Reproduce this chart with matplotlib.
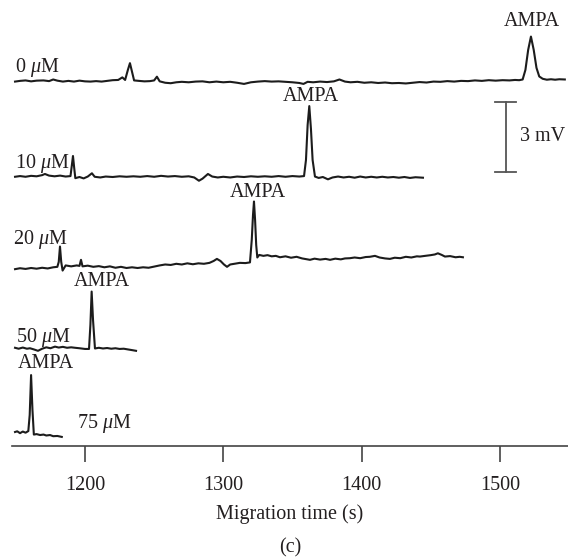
import matplotlib
matplotlib.use("Agg")
import matplotlib.pyplot as plt

plt.rcParams['font.family'] = ['Liberation Serif', 'DejaVu Serif']
plt.rcParams['mathtext.fontset'] = 'custom'
plt.rcParams['mathtext.rm'] = 'Liberation Serif'
plt.rcParams['mathtext.it'] = 'Liberation Serif:italic'

# ---------------- data (time in s, signal in mV relative to trace baseline) ----
t_0uM = [1149.4, 1153, 1157, 1161, 1165, 1170, 1174, 1177, 1180, 1184, 1188, 1192, 1196, 1200,
         1204, 1208, 1212, 1216, 1220, 1224, 1227, 1229, 1231, 1232.5, 1234, 1235.5, 1239, 1243,
         1247, 1250, 1252, 1254, 1258, 1262, 1266, 1270, 1275, 1280, 1285, 1290, 1295, 1300,
         1305, 1310, 1315, 1320, 1325, 1330, 1335, 1340, 1345, 1350, 1355, 1358, 1361, 1365,
         1370, 1375, 1380, 1384, 1388, 1392, 1397, 1402, 1407, 1412, 1417, 1422, 1427, 1432,
         1437, 1442, 1447, 1452, 1457, 1462, 1467, 1472, 1477, 1482, 1487, 1492, 1497, 1502,
         1507, 1511, 1514, 1516.5, 1518.5, 1520.5, 1522.5, 1524.5, 1526.5, 1528.5, 1531, 1534,
         1537, 1540, 1543, 1547]
s_0uM = [-0.03, 0, 0.02, -0.02, 0.01, 0.02, -0.01, 0.06, 0.01, -0.03, 0, -0.03, 0.01, -0.02,
         -0.03, -0.01, -0.03, 0, 0.03, 0.04, 0.15, 0.04, 0.47, 0.76, 0.39, 0.02, 0, -0.02,
         -0.01, 0.02, 0.18, -0.02, -0.08, -0.1, -0.06, -0.04, -0.06, -0.03, -0.02, -0.06, -0.03, -0.06,
         -0.04, -0.08, -0.13, -0.06, -0.03, -0.01, -0.03, -0.02, -0.04, -0.06, -0.09, -0.13, -0.04, -0.06,
         -0.03, -0.05, -0.02, 0.06, -0.03, -0.06, -0.04, -0.08, -0.06, -0.09, -0.07, -0.1, -0.09, -0.11,
         -0.08, -0.05, -0.07, -0.03, -0.04, -0.01, -0.03, 0, -0.01, 0.02, 0, 0.03, 0.01, 0.03,
         0.02, 0.04, 0.03, 0.06, 0.47, 1.33, 1.9, 1.33, 0.56, 0.19, 0.09, 0.05,
         0.07, 0.05, 0.07, 0.06]

t_10uM = [1149.4, 1153, 1157, 1161, 1165, 1169, 1171, 1174, 1178, 1182, 1186, 1189.5, 1190.5,
          1191.3, 1192.2, 1193, 1196, 1199, 1202, 1205, 1207, 1211, 1215, 1220, 1225, 1230, 1235,
          1240, 1245, 1250, 1255, 1260, 1265, 1270, 1275, 1279, 1282.4, 1285, 1288.9, 1292, 1296,
          1300, 1305, 1310, 1315, 1320, 1325, 1330, 1335, 1340, 1345, 1350, 1355, 1358.4, 1359.8,
          1361, 1362.2, 1363.4, 1364.6, 1366.3, 1369, 1372, 1375.7, 1379, 1383, 1387, 1391, 1395,
          1399, 1403, 1407, 1411, 1415, 1419, 1423, 1427, 1431, 1435, 1439, 1444.4]
s_10uM = [-0.03, 0, -0.03, 0.01, -0.01, 0.04, 0.09, 0.02, -0.01, 0.02, -0.02, 0, 0.47,
          0.86, 0.34, -0.09, -0.04, -0.1, -0.02, 0.12, -0.03, -0.06, -0.02, -0.04, -0.01, -0.03, -0.01,
          -0.03, 0, -0.03, 0.01, -0.02, 0, -0.03, -0.01, -0.06, -0.2, -0.11, 0.09, -0.02, -0.06,
          -0.03, -0.06, -0.02, -0.04, -0.01, -0.03, -0.01, -0.03, 0, -0.03, 0, -0.02, 0, 0.69,
          2.19, 3.0, 2.02, 0.69, -0.02, -0.08, -0.04, -0.14, -0.06, -0.02, -0.06, -0.03, -0.07,
          -0.02, -0.06, -0.03, -0.06, -0.03, -0.06, -0.04, -0.07, -0.04, -0.08, -0.05, -0.07]

t_20uM = [1149.4, 1153, 1157, 1161, 1165, 1169, 1173, 1177, 1180, 1181, 1181.9, 1182.8, 1183.8,
          1186, 1190, 1194, 1196, 1197.1, 1198.2, 1202, 1206, 1210, 1214, 1218, 1222, 1226, 1230,
          1234, 1238, 1242, 1246, 1250, 1254, 1258, 1262, 1266, 1270, 1274, 1278, 1282, 1286, 1290,
          1293, 1295.4, 1298, 1300.5, 1302.7, 1305, 1308, 1312, 1316, 1319.3, 1320.6, 1321.5, 1322.2,
          1323, 1323.8, 1324.6, 1326, 1329, 1332, 1335, 1338, 1341, 1345, 1349, 1353, 1357, 1362.7,
          1366, 1370, 1374, 1377.2, 1381, 1385, 1388, 1391.6, 1395, 1399, 1403, 1406, 1409.7, 1413,
          1417, 1420.5, 1424, 1428, 1432, 1436, 1440, 1442.2, 1446, 1450, 1453, 1455.2, 1458, 1460.3,
          1464, 1468, 1471, 1473.3]
s_20uM = [-0.14, -0.1, -0.13, -0.09, -0.12, -0.08, -0.11, -0.06, -0.04, 0.17, 0.83, 0.17, -0.2,
          0.02, -0.02, 0.02, 0, 0.26, -0.02, 0.01, -0.04, -0.01, -0.06, -0.02, -0.08, -0.04, -0.09,
          -0.06, -0.09, -0.06, -0.08, -0.03, 0.02, 0.06, 0.04, 0.09, 0.06, 0.11, 0.07, 0.11, 0.09, 0.13,
          0.21, 0.3, 0.21, 0.06, -0.04, 0.06, 0.09, 0.13, 0.12, 0.15, 1.12, 2.19, 2.76,
          1.97, 0.9, 0.36, 0.47, 0.43, 0.46, 0.41, 0.43, 0.37, 0.41, 0.35, 0.39, 0.32, 0.26,
          0.31, 0.27, 0.3, 0.26, 0.31, 0.28, 0.32, 0.33, 0.36, 0.33, 0.38, 0.39, 0.43, 0.36,
          0.32, 0.3, 0.35, 0.33, 0.39, 0.36, 0.41, 0.4, 0.43, 0.46, 0.49, 0.54, 0.47, 0.4,
          0.42, 0.37, 0.39, 0.37]

t_50uM = [1149.4, 1152, 1155, 1158, 1160.2, 1163, 1166, 1169, 1172, 1175, 1178.3, 1181, 1184,
          1187, 1190, 1192.8, 1196, 1200, 1202.9, 1203.9, 1204.8, 1205.8, 1207.2, 1210, 1213, 1216,
          1219, 1222, 1225, 1228, 1231, 1234, 1236.9]
s_50uM = [0.01, -0.03, 0.02, -0.03, -0.01, -0.06, -0.12, -0.03, 0.03, -0.01, 0.06, 0.02, 0.05,
          0.01, 0.03, 0.01, -0.01, -0.04, -0.04, 0.99, 2.42, 1.2, -0.02, 0.01, -0.02, 0,
          -0.03, -0.01, -0.04, -0.03, -0.06, -0.09, -0.12]

t_75uM = [1149.4, 1151, 1153, 1155, 1157, 1159, 1160, 1161, 1162, 1163, 1165, 1167.5, 1170,
          1172, 1174.7, 1177, 1180, 1183.2]
s_75uM = [0.09, 0.12, 0.04, 0.11, 0.06, 0.13, 0.82, 2.53, 1.03, -0.02, 0, -0.04, -0.02,
          -0.06, -0.04, -0.09, -0.08, -0.12]

conc_labels = ["0 $\\mu$M", "10 $\\mu$M", "20 $\\mu$M", "50 $\\mu$M", "75 $\\mu$M"]
peak_label = "AMPA"
xticks = [1200, 1300, 1400, 1500]
xlabel = "Migration time (s)"
scale_mV = 3
panel = "(c)"

# ---------------- layout ----------------
offsets = [15.65, 11.57, 7.72, 4.2, 0.51]            # vertical stacking (mV)
conc_pos = [(1149.4, 16.04), (1149.4, 11.9), (1148.0, 8.66), (1150.0, 4.47), (1194.2, 0.76)]
ampa_pos = [(1523.0, 18.02), (1363.4, 14.79), (1325.1, 10.66), (1212.1, 6.86), (1171.8, 3.33)]

fig = plt.figure(figsize=(5.68, 5.60), dpi=100)
ax = fig.add_axes([12 / 568, (560 - 446) / 560, 1 - 12 / 568, (446 - 5) / 560])

traces = [(t_0uM, s_0uM), (t_10uM, s_10uM), (t_20uM, s_20uM), (t_50uM, s_50uM), (t_75uM, s_75uM)]
line_color = '#1c1c1c'
for (tt, ss), off in zip(traces, offsets):
    ax.plot(tt, [v + off for v in ss], color=line_color, lw=1.5, solid_joinstyle='round')

fs = 14.5
txt_color = '#231f20'
for lab, (x, y) in zip(conc_labels, conc_pos):
    ax.text(x, y, lab, fontsize=fs, ha='left', va='baseline', color=txt_color)
for (x, y) in ampa_pos:
    ax.text(x, y, peak_label, fontsize=fs, ha='center', va='baseline', color=txt_color)

# scale bar
sb_x, sb_y0 = 1504.2, 11.76
bar_color = '#555555'
ax.plot([sb_x, sb_x], [sb_y0, sb_y0 + scale_mV], color=bar_color, lw=1.3)
ax.plot([sb_x - 7.5, sb_x + 7.5], [sb_y0, sb_y0], color=bar_color, lw=1.3)
ax.plot([sb_x - 7.5, sb_x + 7.5], [sb_y0 + scale_mV, sb_y0 + scale_mV], color=bar_color, lw=1.3)
ax.text(1514.9, sb_y0 + scale_mV / 2, f"{scale_mV} mV", fontsize=fs, ha='left', va='center',
        color=txt_color)

ax.set_xlim(1147.2, 1549.3)
ax.set_ylim(0, (446 - 5) / 23.33)
for side in ['top', 'right', 'left']:
    ax.spines[side].set_visible(False)
ax.spines['bottom'].set_color('#444444')
ax.spines['bottom'].set_linewidth(1.2)
ax.set_yticks([])
ax.set_xticks(xticks)
ax.set_xticklabels([str(v) for v in xticks])
ax.tick_params(axis='x', direction='out', length=11.5, width=1.2, color='#444444',
               pad=10, labelsize=fs, labelcolor=txt_color)
ax.patch.set_alpha(0)

fig.text(0.5 * (12 + 568) / 568, 1 - 514 / 560, xlabel, fontsize=fs, ha='center', va='center',
         color=txt_color)
fig.text(0.5 * (12 + 568) / 568, 1 - 548 / 560, panel, fontsize=fs, ha='center', va='center',
         color=txt_color)

fig.savefig("out.png", dpi=100)
